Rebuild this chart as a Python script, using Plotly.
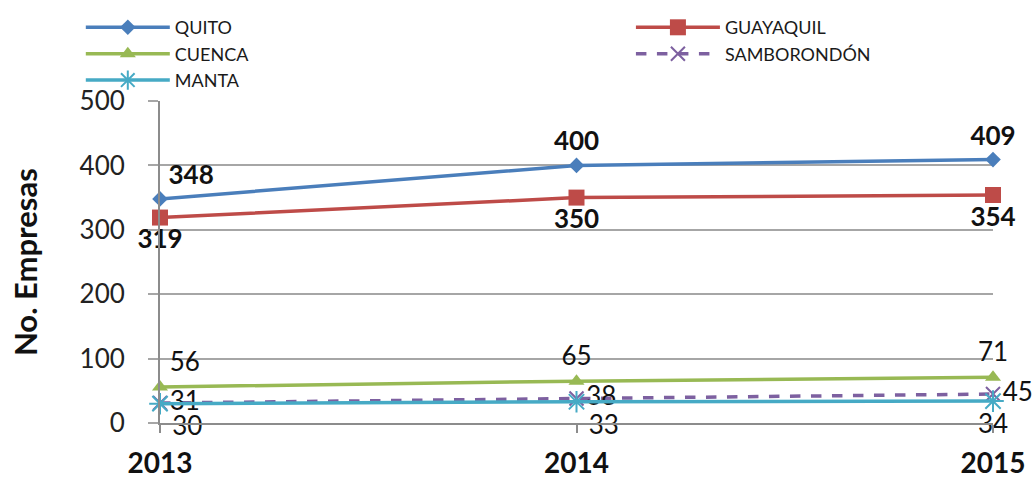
import plotly.graph_objects as go

years = [2013, 2014, 2015]
year_labels = ["2013", "2014", "2015"]
quito = [348, 400, 409]
guayaquil = [319, 350, 354]
cuenca = [56, 65, 71]
samborondon = [31, 38, 45]
manta = [30, 33, 34]
y_title = "No. Empresas"

FONT = "Lato"
fig = go.Figure()

def add(name, y, color, symbol, msize, dash, textpos, bold, legend):
    fig.add_trace(go.Scatter(
        x=years, y=y, name=name, mode="lines+markers+text",
        line=dict(color=color, width=3.5, dash=dash),
        marker=dict(symbol=symbol, size=msize, color=color,
                    line=dict(color=color, width=2 if symbol in ("x-thin", "asterisk") else 0)),
        text=[str(v) for v in y], textposition=textpos,
        textfont=dict(family=FONT, size=26, color="#111111",
                      weight="bold" if bold else "normal"),
        cliponaxis=False, legend=legend,
    ))

add("QUITO", quito, "#4A7EBB", "diamond", 12, "solid",
    ["top right", "top center", "top center"], True, "legend")
add("GUAYAQUIL", guayaquil, "#BE4B48", "square", 16, "solid",
    ["bottom center", "bottom center", "bottom center"], True, "legend2")
add("CUENCA", cuenca, "#98B954", "triangle-up", 14, "solid",
    ["top right", "top center", "top center"], False, "legend")
add("SAMBORONDÓN", samborondon, "#7D60A0", "x-thin", 14, "dash",
    ["middle right", "middle right", "middle right"], False, "legend2")
add("MANTA", manta, "#46AAC5", "asterisk", 18, "solid",
    ["bottom right", "bottom right", "bottom center"], False, "legend")

leg_common = dict(
    orientation="v", yanchor="top", xanchor="left", itemwidth=84,
    xref="container", yref="container",
    font=dict(family=FONT, size=18, color="#1a1a1a"),
    tracegroupgap=0, bgcolor="rgba(0,0,0,0)",
)
fig.update_layout(
    width=1036, height=479,
    margin=dict(l=160, r=43, t=101, b=56, autoexpand=False),
    paper_bgcolor="white", plot_bgcolor="white",
    font=dict(family=FONT, color="#222222"),
    legend=dict(x=0.078, y=0.981, **leg_common),
    legend2=dict(x=0.609, y=0.981, **leg_common),
    showlegend=True,
)
fig.add_annotation(
    text="<b>" + y_title + "</b>", xref="paper", yref="paper",
    x=-0.162, y=0.5, xanchor="center", yanchor="middle", textangle=-90,
    showarrow=False, font=dict(family=FONT, size=31, color="#111111"),
)
fig.update_xaxes(
    range=[2013, 2015], tickvals=years, ticktext=year_labels,
    showgrid=False, showline=True, linecolor="#8c8c8c", linewidth=2,
    ticks="outside", ticklen=8, tickcolor="#8c8c8c", tickwidth=2,
    tickfont=dict(family=FONT, size=28, color="#111111", weight="bold"),
    ticklabelstandoff=6, zeroline=False, automargin=False,
)
fig.update_yaxes(
    range=[0, 500], dtick=100,
    showgrid=True, gridcolor="#a6a6a6", gridwidth=1.5,
    showline=True, linecolor="#8c8c8c", linewidth=2,
    ticks="outside", ticklen=10, tickcolor="#a6a6a6", tickwidth=1.5,
    tickfont=dict(family=FONT, size=26, color="#222222"),
    ticklabelstandoff=18, zeroline=False, automargin=False,
)

fig.write_html("out.html")
